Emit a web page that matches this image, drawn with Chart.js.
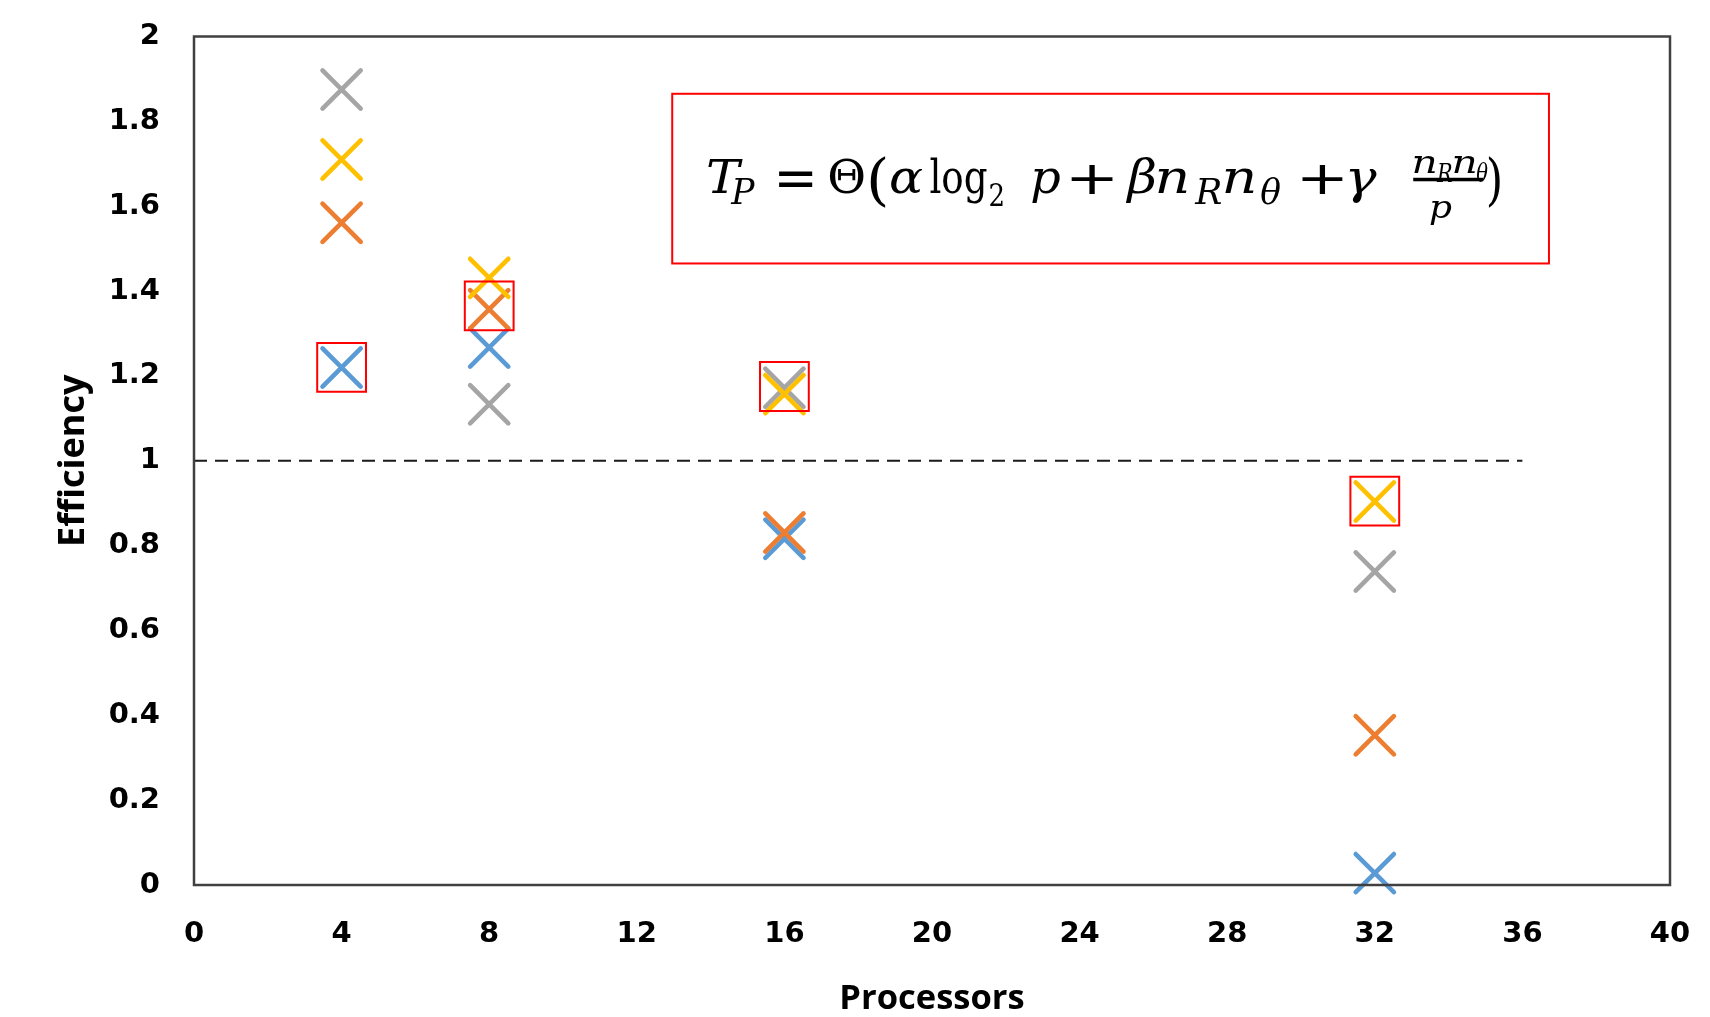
<!DOCTYPE html>
<html>
<head>
<meta charset="utf-8">
<script src="https://cdn.jsdelivr.net/npm/chart.js@4.4.1/dist/chart.umd.min.js"></script>
<style>
html,body{margin:0;padding:0;background:#fff;}
canvas{display:block;}
</style>
</head>
<body>
<canvas id="c" width="1710" height="1017"></canvas>
<script>
// ---- data ----
const processors = [4, 8, 16, 32];
const seriesBlue   = [1.22, 1.267, 0.816, 0.028];
const seriesOrange = [1.561, 1.357, 0.831, 0.353];
const seriesGray   = [1.875, 1.133, 1.172, 0.739];
const seriesYellow = [1.71, 1.431, 1.157, 0.904];
const highlighted  = [1.22, 1.365, 1.175, 0.905];
const referenceLineX = [0, 36];
const referenceLineY = [1, 1];
const xTickValues = [0, 4, 8, 12, 16, 20, 24, 28, 32, 36, 40];
const yTickValues = [0, 0.2, 0.4, 0.6, 0.8, 1, 1.2, 1.4, 1.6, 1.8, 2];
const xTitle = 'Processors';
const yTitle = 'Efficiency';

const pts = arr => processors.map((p, i) => ({x: p, y: arr[i]}));

const crossDs = (data, color, order) => ({
  type: 'scatter', data: pts(data), pointStyle: 'crossRot', pointRadius: 27,
  borderColor: color, backgroundColor: color, pointBorderWidth: 4.6, borderWidth: 4.6,
  order: order, clip: false
});

// equation annotation plugin
const SERIF = '"DejaVu Serif", "Liberation Serif", serif';
const SANS = '"DejaVu Sans", sans-serif';
// [text, italic, family, size, ink-left dx, ink width, baseline dy | null, centre dy | null]
const eqPieces = [
  ['T', 1, SERIF, 46, 36, 35, 99, null],
  ['P', 1, SERIF, 36, 58, 25, 110, null],
  ['=', 0, SANS, 56, 106, 34, null, 85],
  ['\u0398', 0, SERIF, 46, 157, 35, 99, null],
  ['(', 0, SERIF, 56, 198, 15, null, 88],
  ['\u03B1', 1, SERIF, 46, 218, 33, 99, null],
  ['log', 0, SERIF, 46, 258, 57, 99, null],
  ['2', 0, SERIF, 32, 318, 13, 112, null],
  ['p', 1, SERIF, 46, 359, 29, 99, null],
  ['+', 0, SANS, 47, 398, 43, null, 85],
  ['\u03B2', 1, SERIF, 46, 453, 30, 99, null],
  ['n', 1, SERIF, 46, 486, 29, 99, null],
  ['R', 1, SERIF, 36, 522, 27, 110, null],
  ['n', 1, SERIF, 46, 553, 29, 99, null],
  ['\u03B8', 1, SERIF, 36, 588, 21, 110, null],
  ['+', 0, SANS, 47, 629, 42, null, 85],
  ['\u03B3', 1, SERIF, 46, 677, 28, 99, null],
  ['n', 1, SERIF, 31, 742, 21, 79, null],
  ['R', 1, SERIF, 26, 764, 16, 88, null],
  ['n', 1, SERIF, 31, 782, 21, 79, null],
  ['\u03B8', 1, SERIF, 26, 804, 12, 88, null],
  ['p', 1, SERIF, 31, 758, 22, 124, null],
  [')', 0, SERIF, 56, 816, 12, null, 88]
];

const eqPlugin = {
  id: 'eq',
  afterDraw(chart) {
    const ctx = chart.ctx;
    const xs = chart.scales.x, ys = chart.scales.y;
    const L = xs.getPixelForValue(12.96), R = xs.getPixelForValue(36.72);
    const T = ys.getPixelForValue(1.865), B = ys.getPixelForValue(1.465);
    ctx.save();
    ctx.strokeStyle = '#FF0000';
    ctx.lineWidth = 2;
    ctx.strokeRect(L, T, R - L, B - T);
    ctx.fillStyle = '#000';
    ctx.textAlign = 'left';
    ctx.textBaseline = 'alphabetic';
    for (const [t, it, fam, sz, dx, w, base, cy] of eqPieces) {
      ctx.font = (it ? 'italic ' : '') + sz + 'px ' + fam;
      const m = ctx.measureText(t);
      const inkL = -m.actualBoundingBoxLeft;
      const inkW = m.actualBoundingBoxRight + m.actualBoundingBoxLeft;
      const sx = w / inkW;
      const by = base !== null ? base : cy + (m.actualBoundingBoxAscent - m.actualBoundingBoxDescent) / 2;
      ctx.save();
      ctx.translate(L + dx, T + by);
      ctx.scale(sx, 1);
      ctx.fillText(t, -inkL, 0);
      ctx.restore();
    }
    ctx.fillRect(L + 741, T + 84, 70, 3.5);
    ctx.restore();
  }
};

const frame = {
  id: 'frame',
  beforeDatasetsDraw(chart) { chart.ctx.lineCap = 'round'; },
  afterDatasetsDraw(chart) {
    const {ctx, chartArea: a} = chart;
    ctx.save();
    ctx.strokeStyle = '#404040';
    ctx.lineWidth = 2.5;
    ctx.lineCap = 'butt';
    ctx.strokeRect(a.left, a.top, a.right - a.left, a.bottom - a.top);
    ctx.restore();
  }
};

const tickFont = {family: '"DejaVu Sans", Verdana, sans-serif', weight: 'bold', size: 29};

new Chart(document.getElementById('c'), {
  type: 'scatter',
  data: {
    datasets: [
      crossDs(seriesYellow, '#FFC000', 1),
      crossDs(seriesGray, '#A5A5A5', 2),
      crossDs(seriesOrange, '#ED7D31', 3),
      crossDs(seriesBlue, '#5B9BD5', 4),
      {
        type: 'line', data: referenceLineX.map((x, i) => ({x, y: referenceLineY[i]})),
        borderColor: '#1a1a1a', borderWidth: 2.2, borderDash: [13, 8], pointRadius: 0,
        borderCapStyle: 'butt', order: 5, clip: false
      },
      {
        type: 'scatter', data: pts(highlighted), pointStyle: 'rect', pointRadius: 34.5,
        borderColor: '#FF0000', backgroundColor: 'rgba(0,0,0,0)', pointBorderWidth: 2, borderWidth: 2,
        order: 0, clip: false
      }
    ]
  },
  options: {
    responsive: false, devicePixelRatio: 1, animation: false,
    layout: {padding: {top: 35, right: 40, bottom: 0, left: 0}},
    plugins: {legend: {display: false}, tooltip: {enabled: false}},
    elements: {point: {hoverRadius: 27}},
    scales: {
      x: {
        type: 'linear', min: 0, max: 40,
        afterBuildTicks: s => { s.ticks = xTickValues.map(v => ({value: v})); },
        ticks: {font: tickFont, color: '#000', padding: 32, maxRotation: 0, autoSkip: false},
        grid: {display: false, drawTicks: false}, border: {display: false},
        title: {display: true, text: xTitle, color: '#000',
          font: {family: '"Open Sans", sans-serif', weight: 'bold', size: 34.5, lineHeight: 1.05},
          padding: {top: 0, bottom: 0}},
        afterFit: s => { s.height = 132; s.paddingLeft = 0; s.paddingRight = 0; }
      },
      y: {
        type: 'linear', min: 0, max: 2,
        afterBuildTicks: s => { s.ticks = yTickValues.map(v => ({value: v})); },
        ticks: {font: tickFont, color: '#000', padding: 34, callback: v => String(+v.toFixed(1))},
        grid: {display: false, drawTicks: false}, border: {display: false},
        title: {display: true, text: yTitle, color: '#000',
          font: {family: '"Open Sans", sans-serif', weight: 'bold', size: 36, lineHeight: 1.2},
          padding: {top: 52, bottom: 0}},
        afterFit: s => { s.width = 194; s.paddingTop = 0; s.paddingBottom = 0; }
      }
    }
  },
  plugins: [eqPlugin, frame]
});
</script>
</body>
</html>
